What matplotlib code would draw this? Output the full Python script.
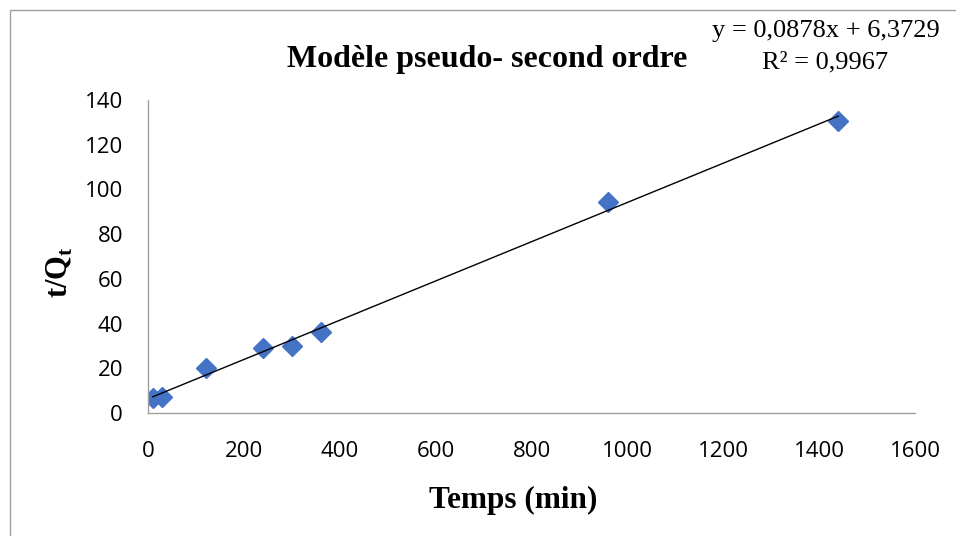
import numpy as np
import matplotlib
matplotlib.use("Agg")
import matplotlib.pyplot as plt
from matplotlib.patches import Rectangle

# Temps de contact (min) et t/Qt
temps = [10, 30, 120, 240, 300, 360, 960, 1440]
t_sur_qt = [6.5, 7.0, 20.0, 29.0, 30.0, 36.2, 94.5, 130.8]

# Régression linéaire affichée
pente = 0.0878
ordonnee = 6.3729
r2 = 0.9967

x_ticks = [0, 200, 400, 600, 800, 1000, 1200, 1400, 1600]
y_ticks = [0, 20, 40, 60, 80, 100, 120, 140]

fig = plt.figure(figsize=(9.56, 5.36), dpi=100)
fig.patches.append(Rectangle((10 / 956, -0.1), 1.2, (526 / 536) + 0.1,
                             transform=fig.transFigure, fill=False,
                             edgecolor="#a0a0a0", linewidth=1.0))

ax = fig.add_axes([148 / 956, 1 - 413 / 536, (915 - 148) / 956, (413 - 100) / 536])

ax.plot(temps, t_sur_qt, linestyle="none", marker="D", markersize=10.5,
        color="#4472C4", zorder=2)
xl = np.array([min(temps), max(temps)])
ax.plot(xl, pente * xl + ordonnee, color="black", linewidth=1.0, zorder=3)

ax.set_xlim(0, 1600)
ax.set_ylim(0, 140)
ax.set_xticks(x_ticks)
ax.set_yticks(y_ticks)
tick_font = {"family": "Open Sans", "size": 16}
ax.set_xticklabels([str(v) for v in x_ticks], fontdict=tick_font)
ax.set_yticklabels([str(v) for v in y_ticks], fontdict=tick_font)
ax.tick_params(length=0)
ax.tick_params(axis="y", pad=18)
ax.tick_params(axis="x", pad=20)

for s in ["top", "right"]:
    ax.spines[s].set_visible(False)
for s in ["left", "bottom"]:
    ax.spines[s].set_color("#a0a0a0")
    ax.spines[s].set_linewidth(1.0)

fig.text(513 / 956, 1 - 500 / 536, "Temps (min)", family="Liberation Serif",
         weight="bold", size=22.5, ha="center", va="center")
fig.text(60 / 956, 1 - 272 / 536, r"t/Q$_\mathregular{t}$",
         family="Liberation Serif", weight="bold", size=22,
         rotation=90, ha="center", va="center")

fig.text(487 / 956, 1 - 60 / 536, "Modèle pseudo- second ordre",
         family="Liberation Serif", weight="bold", size=23,
         ha="center", va="center")
fig.text(826 / 956, 1 - 31 / 536,
         f"y = {pente:.4f}x + {ordonnee:.4f}".replace(".", ","),
         family="Liberation Serif", size=19, ha="center", va="center")
fig.text(825 / 956, 1 - 62 / 536, f"R² = {r2:.4f}".replace(".", ","),
         family="Liberation Serif", size=19, ha="center", va="center")

fig.savefig("out.png", dpi=100)
